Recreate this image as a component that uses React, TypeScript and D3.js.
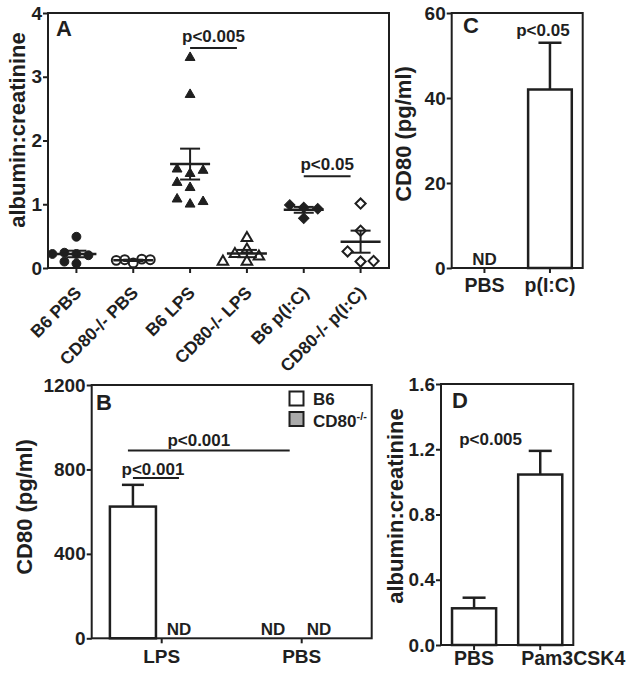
import React, { useEffect, useRef } from 'react';
import * as d3 from 'd3';

const FONT = "'Liberation Sans', Arial, Helvetica, sans-serif";
const INK = '#1f1f1f';

// A: albumin:creatinine per mouse
const groupsA = ['B6 PBS', 'CD80-/- PBS', 'B6 LPS', 'CD80-/- LPS', 'B6 p(I:C)', 'CD80-/- p(I:C)'];
const b6Pbs = [0.49, 0.22, 0.24, 0.2, 0.22, 0.07, 0.1];
const koPbs = [0.08, 0.13, 0.14, 0.12, 0.13];
const b6Lps = [3.3, 2.72, 1.48, 1.55, 1.53, 1.26, 1.34, 1.0, 1.08, 1.04];
const koLps = [0.47, 0.29, 0.22, 0.18, 0.1, 0.1];
const b6Pic = [0.95, 0.99, 0.93, 0.78];
const koPic = [1.01, 0.585, 0.1, 0.26, 0.11];
const ticksA = [0, 1, 2, 3, 4];

// B: serum CD80, LPS vs PBS (null = ND)
const groupsB = ['LPS', 'PBS'];
const keysB = ['B6', 'CD80'];
const b6CD80 = [624, null];
const b6CD80Err = [103, null];
const koCD80 = [null, null];
const ticksB = [0, 400, 800, 1200];

// C: CD80 after p(I:C)
const groupsC = ['PBS', 'p(I:C)'];
const valC = [null, 42];
const errC = [null, 11];
const ticksC = [0, 20, 40, 60];

// D: albumin:creatinine after Pam3CSK4
const groupsD = ['PBS', 'Pam3CSK4'];
const valD = [0.225, 1.045];
const errD = [0.065, 0.145];
const ticksD = [0, 0.4, 0.8, 1.2, 1.6];

// simple dodge: points that would overlap are pushed sideways, alternating left/right
function swarm(vals: number[], y: (v: number) => number, step: number, vf = 0.7) {
  const placed: [number, number][] = [];
  return vals.map((v) => {
    const py = y(v);
    let off = 0;
    for (let k = 0; k < 30; k++) {
      off = k === 0 ? 0 : (k % 2 ? -1 : 1) * Math.ceil(k / 2) * step;
      const hit = placed.some(([px, qy]) => Math.abs(qy - py) < step * vf && Math.abs(px - off) < step * 0.9);
      if (!hit) break;
    }
    placed.push([off, py]);
    return [off, py];
  });
}

function styleAxis(g: any, size = 19) {
  g.select('.domain').remove();
  g.attr('font-family', FONT).attr('font-size', size).attr('font-weight', 'bold');
  g.selectAll('line').attr('stroke', INK).attr('stroke-width', 2);
  g.selectAll('text').attr('fill', INK);
}

function txt(g: any, s: string, x: number, y: number, size: number, anchor = 'middle') {
  return g.append('text').attr('x', x).attr('y', y).attr('text-anchor', anchor)
    .attr('font-family', FONT).attr('font-size', size).attr('font-weight', 'bold').attr('fill', INK).text(s);
}

function frame(g: any, x0: number, x1: number, y0: number, y1: number) {
  g.append('rect').attr('x', x0).attr('y', y0).attr('width', x1 - x0).attr('height', y1 - y0)
    .attr('fill', 'none').attr('stroke', INK).attr('stroke-width', 2);
}

function yTitle(g: any, s: string, x: number, y: number) {
  txt(g, s, 0, 0, 22).attr('transform', `translate(${x},${y}) rotate(-90)`);
}

function drawA(svg: any) {
  const g = svg.append('g');
  const yA = d3.scaleLinear().domain([0, 4]).range([268, 13]);
  const xA = d3.scaleBand().domain(groupsA).range([48, 389]);
  const cx = (d: string) => (xA(d) as number) + xA.bandwidth() / 2;

  g.append('g').attr('transform', 'translate(48,0)')
    .call(d3.axisLeft(yA).tickValues(ticksA).tickSize(5).tickPadding(1).tickFormat(d3.format('d')))
    .call(styleAxis);
  g.append('g').attr('transform', 'translate(0,268)')
    .call(d3.axisBottom(xA).tickSize(5).tickFormat(() => ''))
    .call(styleAxis);
  frame(g, 48, 389, 13, 268);

  groupsA.forEach((d) => {
    txt(g, d, 0, 0, 17.5, 'end').attr('transform', `translate(${cx(d) + 6},294) rotate(-45)`);
  });

  const series = [b6Pbs, koPbs, b6Lps, koLps, b6Pic, koPic];
  const marks = [
    { shape: d3.symbolCircle, size: 62, filled: true, step: 12, vf: 0.7, rot: 0 },
    { shape: d3.symbolCircle, size: 62, filled: false, step: 8.5, vf: 0.7, rot: 0 },
    { shape: d3.symbolTriangle, size: 42, filled: true, step: 13, vf: 0.7, rot: 0 },
    { shape: d3.symbolTriangle, size: 48, filled: false, step: 12, vf: 0.7, rot: 0 },
    { shape: d3.symbolSquare, size: 55, filled: true, step: 14, vf: 0.7, rot: 45 },
    { shape: d3.symbolSquare, size: 52, filled: false, step: 13, vf: 0.8, rot: 45 },
  ];

  series.forEach((vals, i) => {
    const m = marks[i];
    const x0 = cx(groupsA[i]);
    const pts = swarm(vals, yA, m.step, m.vf);
    g.append('g').selectAll('path').data(pts).join('path')
      .attr('d', d3.symbol().type(m.shape).size(m.size)())
      .attr('transform', (p: number[]) => `translate(${x0 + p[0]},${p[1]}) rotate(${m.rot})`)
      .attr('fill', m.filled ? INK : '#fff')
      .attr('stroke', INK).attr('stroke-width', m.filled ? 1 : 2);

    const mean = d3.mean(vals) as number;
    const sem = (d3.deviation(vals) as number) / Math.sqrt(vals.length);
    const eg = g.append('g').attr('stroke', INK).attr('stroke-width', 2.5);
    eg.append('line').attr('x1', x0 - 20).attr('x2', x0 + 20).attr('y1', yA(mean)).attr('y2', yA(mean));
    eg.append('line').attr('x1', x0).attr('x2', x0).attr('y1', yA(mean - sem)).attr('y2', yA(mean + sem)).attr('stroke-width', 2);
    [mean - sem, mean + sem].forEach((v) => {
      eg.append('line').attr('x1', x0 - 10).attr('x2', x0 + 10).attr('y1', yA(v)).attr('y2', yA(v)).attr('stroke-width', 2);
    });
  });

  const sig = [
    { a: 'B6 LPS', b: 'CD80-/- LPS', v: 3.45, label: 'p<0.005' },
    { a: 'B6 p(I:C)', b: 'CD80-/- p(I:C)', v: 1.44, label: 'p<0.05' },
  ];
  sig.forEach((s) => {
    const x1 = cx(s.a), x2 = cx(s.b) - 10;
    g.append('line').attr('x1', x1).attr('x2', x2).attr('y1', yA(s.v)).attr('y2', yA(s.v))
      .attr('stroke', INK).attr('stroke-width', 2);
    txt(g, s.label, (x1 + x2) / 2, yA(s.v) - 6, 17);
  });

  txt(g, 'A', 56, 36, 22, 'start');
  yTitle(g, 'albumin:creatinine', 25, 130);
}

function drawB(svg: any) {
  const g = svg.append('g');
  const yB = d3.scaleLinear().domain([0, 1200]).range([638.3, 385]);
  const xB = d3.scaleBand().domain(groupsB).range([91.7, 371.7]);
  const inner = d3.scaleBand().domain(keysB).range([0, xB.bandwidth()]).paddingOuter(0.52).align(0.38);
  const bx = (grp: string, k: string) => (xB(grp) as number) + (inner(k) as number);
  const bw = inner.bandwidth();

  g.append('g').attr('transform', 'translate(91.7,0)')
    .call(d3.axisLeft(yB).tickValues(ticksB).tickSize(5).tickPadding(1).tickFormat(d3.format('d')))
    .call(styleAxis);
  g.append('g').attr('transform', 'translate(0,638.3)')
    .call(d3.axisBottom(xB).tickSize(5).tickPadding(6).tickFormat((d: string) => d))
    .call(styleAxis);

  groupsB.forEach((grp, i) => {
    [[b6CD80[i], b6CD80Err[i], 'B6'], [koCD80[i], null, 'CD80']].forEach(([v, e, k]: any) => {
      const x = bx(grp, k);
      if (v == null) {
        txt(g, 'ND', x + bw / 2, yB(0) - 3, 17);
        return;
      }
      g.append('rect').attr('x', x).attr('y', yB(v)).attr('width', bw).attr('height', yB(0) - yB(v))
        .attr('fill', k === 'B6' ? '#fff' : '#aaa').attr('stroke', INK).attr('stroke-width', 2.5);
      const c = x + bw / 2;
      g.append('line').attr('x1', c).attr('x2', c).attr('y1', yB(v)).attr('y2', yB(v + e)).attr('stroke', INK).attr('stroke-width', 2.5);
      g.append('line').attr('x1', c - 11).attr('x2', c + 11).attr('y1', yB(v + e)).attr('y2', yB(v + e)).attr('stroke', INK).attr('stroke-width', 2.5);
    });
  });
  frame(g, 91.7, 371.7, 385, 638.3);

  // significance bars
  const lpsB6 = bx('LPS', 'B6') + bw / 2;
  const lpsKo = bx('LPS', 'CD80') + bw / 2;
  const pbsMid = (xB('PBS') as number) + xB.bandwidth() / 2;
  const hl = (x1: number, x2: number, v: number) => g.append('line').attr('x1', x1).attr('x2', x2)
    .attr('y1', yB(v)).attr('y2', yB(v)).attr('stroke', INK).attr('stroke-width', 2);
  hl(lpsB6 - 5, pbsMid - 12, 890);
  txt(g, 'p<0.001', (lpsB6 - 5 + pbsMid - 12) / 2 - 10, yB(890) - 4.5, 17);
  hl(lpsB6, lpsKo, 759);
  txt(g, 'p<0.001', (lpsB6 + lpsKo) / 2 - 3, yB(759) - 3, 17);

  // legend
  keysB.forEach((k, i) => {
    g.append('rect').attr('x', 289.5).attr('y', 391.5 + i * 20.5).attr('width', 14).attr('height', 14)
      .attr('fill', k === 'B6' ? '#fff' : '#aaa').attr('stroke', INK).attr('stroke-width', 2);
  });
  txt(g, 'B6', 313, 405, 17, 'start');
  const t = txt(g, 'CD80', 313, 426.5, 17, 'start');
  t.append('tspan').attr('dy', -7).attr('font-size', 11).text('-/-');

  txt(g, 'B', 96, 410, 22, 'start');
  yTitle(g, 'CD80 (pg/ml)', 32, 507);
}

function barPanel(svg: any, opts: any) {
  const { groups, vals, errs, x0, x1, y0, y1, domain, ticks, fmt, letter } = opts;
  const g = svg.append('g');
  const y = d3.scaleLinear().domain(domain).range([y1, y0]);
  const x = d3.scaleBand().domain(groups).range([x0, x1]).paddingInner(1 / 3).paddingOuter(1 / 6);
  const tx = d3.scaleBand().domain(groups).range([x0, x1]);

  g.append('g').attr('transform', `translate(${x0},0)`)
    .call(d3.axisLeft(y).tickValues(ticks).tickSize(5).tickPadding(1).tickFormat(d3.format(fmt)))
    .call(styleAxis);
  g.append('g').attr('transform', `translate(0,${y1})`)
    .call(d3.axisBottom(tx).tickSize(5).tickFormat(() => ''))
    .call(styleAxis);

  groups.forEach((grp: string, i: number) => {
    const bx = x(grp) as number;
    const c = bx + x.bandwidth() / 2;
    const v = vals[i], e = errs[i];
    if (v == null) {
      txt(g, 'ND', c, y(0) - 3, 17);
      return;
    }
    g.append('rect').attr('x', bx).attr('y', y(v)).attr('width', x.bandwidth()).attr('height', y(0) - y(v))
      .attr('fill', '#fff').attr('stroke', INK).attr('stroke-width', 2.5);
    g.append('line').attr('x1', c).attr('x2', c).attr('y1', y(v)).attr('y2', y(v + e)).attr('stroke', INK).attr('stroke-width', 2.5);
    g.append('line').attr('x1', c - 11.5).attr('x2', c + 11.5).attr('y1', y(v + e)).attr('y2', y(v + e)).attr('stroke', INK).attr('stroke-width', 2.5);
  });
  frame(g, x0, x1, y0, y1);
  txt(g, letter, opts.letterX, opts.letterY, 22, 'start');
  return { g, x, y, tx };
}

function drawC(svg: any) {
  const { g, x, y, tx } = barPanel(svg, {
    groups: groupsC, vals: valC, errs: errC, x0: 451.7, x1: 582.7, y0: 13, y1: 268,
    domain: [0, 60], ticks: ticksC, fmt: 'd', letter: 'C', letterX: 463, letterY: 33,
  });
  groupsC.forEach((grp) => txt(g, grp, (tx(grp) as number) + tx.bandwidth() / 2, 292, 19.5));
  const c = (x('p(I:C)') as number) + x.bandwidth() / 2;
  txt(g, 'p<0.05', c - 7, y(valC[1]! + errC[1]!) - 7, 17);
  yTitle(g, 'CD80 (pg/ml)', 411, 134);
}

function drawD(svg: any) {
  const { g, x, y, tx } = barPanel(svg, {
    groups: groupsD, vals: valD, errs: errD, x0: 441, x1: 573.3, y0: 384, y1: 645,
    domain: [0, 1.6], ticks: ticksD, fmt: '.1f', letter: 'D', letterX: 452, letterY: 408,
  });
  txt(g, groupsD[0], (tx(groupsD[0]) as number) + tx.bandwidth() / 2, 665, 19.5);
  // long label does not fit centred under its bar: start it at the bar edge
  txt(g, groupsD[1], (x(groupsD[1]) as number) + 3, 665, 19.5, 'start');
  const c = (tx('PBS') as number) + tx.bandwidth() * 0.75;
  txt(g, 'p<0.005', c, y(valD[1] + errD[1]) - 6, 17);
  yTitle(g, 'albumin:creatinine', 403, 506);
}

export default function App() {
  const ref = useRef<SVGSVGElement>(null);
  useEffect(() => {
    const svg = d3.select(ref.current);
    svg.selectAll('*').remove();
    drawA(svg);
    drawB(svg);
    drawC(svg);
    drawD(svg);
  }, []);
  return (
    <svg
      ref={ref}
      width={632}
      height={673}
      style={{ position: 'absolute', left: 0, top: 0, background: '#fff' }}
    />
  );
}
